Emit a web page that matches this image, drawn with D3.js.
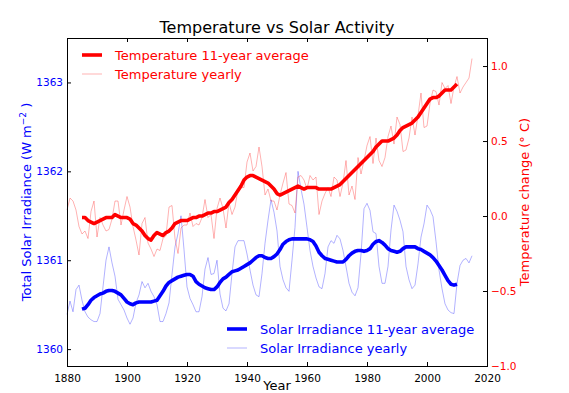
<!DOCTYPE html>
<html>
<head>
<meta charset="utf-8">
<script src="https://cdn.jsdelivr.net/npm/d3@7"></script>
<style>
  html, body { margin: 0; padding: 0; background: #fff; }
  svg { display: block; font-family: "DejaVu Sans", sans-serif; }
</style>
</head>
<body>
<div id="chart"></div>
<script>
// yearly temperature change (deg C), 1880-2015
const tempYearly = [
  0.04, 0.12, 0.10, 0.04, -0.07, -0.12, -0.10, -0.15, 0.03, 0.10,
  -0.14, -0.01, -0.06, -0.10, -0.09, -0.02, 0.10, 0.10, -0.06, 0.04,
  0.13, 0.06, -0.07, -0.16, -0.26, -0.05, -0.01, -0.18, -0.22, -0.27,
  -0.22, -0.23, -0.15, -0.13, 0.06, 0.07, -0.15, -0.25, -0.08, -0.06,
  -0.06, 0.02, -0.07, -0.05, -0.06, -0.01, 0.11, -0.01, 0.01, -0.15,
  0.05, 0.12, 0.05, -0.08, 0.09, 0.01, 0.06, 0.18, 0.19, 0.19,
  0.36, 0.42, 0.30, 0.33, 0.46, 0.33, 0.14, 0.18, 0.10, 0.10,
  0.04, 0.14, 0.22, 0.29, 0.08, 0.07, 0.02, 0.26, 0.27, 0.24,
  0.18, 0.27, 0.24, 0.26, 0.01, 0.10, 0.15, 0.19, 0.13, 0.26,
  0.24, 0.13, 0.22, 0.37, 0.14, 0.20, 0.11, 0.39, 0.28, 0.37,
  0.47, 0.53, 0.35, 0.52, 0.37, 0.33, 0.39, 0.53, 0.60, 0.48,
  0.66, 0.61, 0.43, 0.44, 0.52, 0.66, 0.54, 0.67, 0.82, 0.59,
  0.60, 0.75, 0.84, 0.83, 0.74, 0.89, 0.85, 0.87, 0.75, 0.86,
  0.93, 0.82, 0.86, 0.89, 0.92, 1.05
];

// 11-year average temperature, 1885-2010
const tempAvg = [
  -0.01, -0.01, -0.03, -0.04, -0.05,
  -0.04, -0.03, -0.02, -0.01, -0.01, -0.01, 0.01, 0.00, -0.01, -0.01,
  -0.01, -0.02, -0.05, -0.06, -0.08, -0.10, -0.13, -0.15, -0.16, -0.13,
  -0.11, -0.12, -0.13, -0.11, -0.10, -0.08, -0.05, -0.04, -0.03, -0.03,
  -0.03, -0.02, -0.01, -0.01, 0.00, 0.00, 0.01, 0.02, 0.02, 0.03,
  0.03, 0.04, 0.05, 0.06, 0.09, 0.11, 0.14, 0.17, 0.20, 0.24,
  0.26, 0.27, 0.27, 0.26, 0.25, 0.24, 0.23, 0.22, 0.20, 0.18,
  0.15, 0.14, 0.15, 0.16, 0.17, 0.18, 0.19, 0.20, 0.19, 0.18,
  0.19, 0.19, 0.19, 0.19, 0.18, 0.18, 0.18, 0.18, 0.18, 0.19,
  0.20, 0.21, 0.23, 0.25, 0.27, 0.29, 0.31, 0.33, 0.35, 0.37,
  0.39, 0.41, 0.43, 0.46, 0.48, 0.50, 0.50, 0.50, 0.51, 0.52,
  0.54, 0.57, 0.59, 0.60, 0.61, 0.62, 0.64, 0.66, 0.69, 0.72,
  0.75, 0.78, 0.79, 0.79, 0.80, 0.82, 0.84, 0.84, 0.84, 0.86,
  0.88
];

// yearly total solar irradiance (W m^-2), 1880-2015
const tsiYearly = [
  1360.39, 1360.54, 1360.42, 1360.67, 1360.72, 1360.55, 1360.42, 1360.36, 1360.33, 1360.31,
  1360.31, 1360.40, 1360.70, 1361.00, 1361.15, 1360.97, 1360.82, 1360.56, 1360.50, 1360.44,
  1360.35, 1360.28, 1360.35, 1360.52, 1360.61, 1360.76, 1360.69, 1360.74, 1360.65, 1360.59,
  1360.50, 1360.31, 1360.31, 1360.40, 1360.52, 1360.84, 1361.15, 1361.30, 1361.50, 1361.12,
  1360.70, 1360.57, 1360.50, 1360.42, 1360.42, 1360.59, 1360.90, 1361.03, 1360.84, 1360.85,
  1361.00, 1360.62, 1360.46, 1360.43, 1360.51, 1360.85, 1361.15, 1361.22, 1361.22, 1361.22,
  1361.07, 1360.89, 1360.72, 1360.61, 1360.59, 1360.85, 1361.19, 1361.45, 1361.68, 1361.54,
  1361.33, 1360.93, 1360.78, 1360.69, 1360.65, 1361.00, 1361.37, 1362.00, 1361.80, 1361.63,
  1361.37, 1361.11, 1360.93, 1360.80, 1360.70, 1360.68, 1360.85, 1361.15, 1361.22, 1361.19,
  1361.28, 1361.24, 1361.11, 1360.93, 1360.74, 1360.64, 1360.60, 1360.69, 1361.07, 1361.58,
  1361.64, 1361.56, 1361.32, 1361.30, 1360.93, 1360.74, 1360.74, 1360.93, 1361.34, 1361.62,
  1361.55, 1361.45, 1361.32, 1360.93, 1360.78, 1360.68, 1360.72, 1360.96, 1361.26, 1361.41,
  1361.62, 1361.57, 1361.49, 1361.21, 1360.89, 1360.68, 1360.51, 1360.44, 1360.41, 1360.40,
  1360.74, 1360.94, 1361.00, 1361.02, 1360.97, 1361.05
];

// 11-year average solar irradiance, 1885-2010
const tsiAvg = [
  1360.45, 1360.46, 1360.50, 1360.55, 1360.58,
  1360.60, 1360.62, 1360.63, 1360.65, 1360.66, 1360.66, 1360.65, 1360.63, 1360.61, 1360.57,
  1360.53, 1360.51, 1360.50, 1360.52, 1360.53, 1360.53, 1360.53, 1360.53, 1360.53, 1360.54,
  1360.55, 1360.60, 1360.65, 1360.71, 1360.75, 1360.77, 1360.79, 1360.81, 1360.82, 1360.83,
  1360.84, 1360.84, 1360.82, 1360.76, 1360.73, 1360.71, 1360.69, 1360.68, 1360.67, 1360.67,
  1360.70, 1360.75, 1360.79, 1360.81, 1360.84, 1360.87, 1360.88, 1360.89, 1360.91, 1360.93,
  1360.95, 1360.97, 1361.00, 1361.03, 1361.05, 1361.05, 1361.03, 1361.02, 1361.02, 1361.04,
  1361.07, 1361.12, 1361.18, 1361.21, 1361.23, 1361.24, 1361.24, 1361.24, 1361.24, 1361.24,
  1361.24, 1361.23, 1361.21, 1361.16, 1361.09, 1361.05, 1361.02, 1361.01, 1361.00, 1360.99,
  1360.98, 1360.98, 1360.98, 1361.01, 1361.05, 1361.08, 1361.10, 1361.11, 1361.11, 1361.10,
  1361.11, 1361.13, 1361.18, 1361.21, 1361.22, 1361.20, 1361.17, 1361.13, 1361.11, 1361.10,
  1361.09, 1361.10, 1361.13, 1361.15, 1361.15, 1361.15, 1361.15, 1361.13, 1361.12, 1361.10,
  1361.08, 1361.06, 1361.03, 1360.99, 1360.94, 1360.89, 1360.83, 1360.77, 1360.73, 1360.72,
  1360.73
];

const yearTicks = [1880, 1900, 1920, 1940, 1960, 1980, 2000, 2020];
const tsiTicks = [1360, 1361, 1362, 1363];
const tempTicks = [-1.0, -0.5, 0.0, 0.5, 1.0];

(() => {
  const yearlyYears = d3.range(1880, 1880 + tsiYearly.length);
  const avgYears = d3.range(1885, 1885 + tsiAvg.length);

  const width = 569, height = 393;
  const m = { left: 67, right: 82, top: 38, bottom: 27 };
  const x0 = m.left, x1 = width - m.right, y0 = m.top, y1 = height - m.bottom;

  const svg = d3.select("#chart").append("svg").attr("width", width).attr("height", height);

  const x = d3.scaleLinear().domain([1880, 2020]).range([x0, x1]);
  const yTsi = d3.scaleLinear().domain([1359.81, 1363.5]).range([y1, y0]);
  const yTemp = d3.scaleLinear().domain([-1.0, 1.187]).range([y1, y0]);

  const red = "#ff0000", blue = "#0000ff";
  const pink = "rgba(255,0,0,0.3)", lightBlue = "rgba(0,0,255,0.3)";

  const plot = svg.append("g");
  const tsiLine = d3.line().x(d => x(d.year)).y(d => yTsi(d.v));
  const tempLine = d3.line().x(d => x(d.year)).y(d => yTemp(d.v));
  const pair = (years, vals) => years.map((year, i) => ({ year, v: vals[i] }));

  plot.append("path").attr("d", tsiLine(pair(yearlyYears, tsiYearly)))
    .attr("fill", "none").attr("stroke", lightBlue).attr("stroke-width", 1);
  plot.append("path").attr("d", tsiLine(pair(avgYears, tsiAvg)))
    .attr("fill", "none").attr("stroke", blue).attr("stroke-width", 3.6).attr("stroke-linejoin", "round");
  plot.append("path").attr("d", tempLine(pair(yearlyYears, tempYearly)))
    .attr("fill", "none").attr("stroke", pink).attr("stroke-width", 1);
  plot.append("path").attr("d", tempLine(pair(avgYears, tempAvg)))
    .attr("fill", "none").attr("stroke", red).attr("stroke-width", 3.6).attr("stroke-linejoin", "round");

  // axes, ticks point inward like old matplotlib
  const tickFont = 10.5;
  const axBottom = svg.append("g").attr("transform", `translate(0,${y1})`)
    .call(d3.axisBottom(x).tickValues(yearTicks).tickFormat(d3.format("d")).tickSize(-4).tickPadding(9).tickSizeOuter(0));
  const axTop = svg.append("g").attr("transform", `translate(0,${y0})`)
    .call(d3.axisTop(x).tickValues(yearTicks).tickFormat("").tickSize(-4).tickSizeOuter(0));
  const axLeft = svg.append("g").attr("transform", `translate(${x0},0)`)
    .call(d3.axisLeft(yTsi).tickValues(tsiTicks).tickFormat(d3.format("d")).tickSize(-4).tickPadding(4).tickSizeOuter(0));
  const axRight = svg.append("g").attr("transform", `translate(${x1},0)`)
    .call(d3.axisRight(yTemp).tickValues(tempTicks).tickFormat(d3.format(".1f")).tickSize(-4).tickPadding(4).tickSizeOuter(0));

  [axBottom, axTop, axLeft, axRight].forEach(g => {
    g.select(".domain").remove();
    g.selectAll(".tick line").attr("stroke", "#000");
    g.selectAll("text").attr("font-family", "DejaVu Sans").attr("font-size", tickFont);
  });
  axBottom.selectAll("text").attr("fill", "#000");
  axLeft.selectAll("text").attr("fill", blue);
  axRight.selectAll("text").attr("fill", red);

  svg.append("rect").attr("x", x0 + 0.5).attr("y", y0 + 0.5)
    .attr("width", x1 - x0).attr("height", y1 - y0)
    .attr("fill", "none").attr("stroke", "#000").attr("stroke-width", 1);

  // title and axis labels
  svg.append("text").attr("x", (x0 + x1) / 2).attr("y", 33).attr("text-anchor", "middle")
    .attr("font-size", 16).attr("fill", "#000").text("Temperature vs Solar Activity");
  svg.append("text").attr("x", (x0 + x1) / 2).attr("y", 390).attr("text-anchor", "middle")
    .attr("font-size", 13).attr("fill", "#000").text("Year");

  const yl = svg.append("text").attr("transform", `translate(31,${(y0 + y1) / 2}) rotate(-90)`)
    .attr("text-anchor", "middle").attr("font-size", 13).attr("fill", blue);
  yl.append("tspan").text("Total Solar Irradiance (W m");
  yl.append("tspan").attr("dy", -5).attr("font-size", 9).text("−2");
  yl.append("tspan").attr("dy", 5).text(" )");

  svg.append("text").attr("transform", `translate(529,${(y0 + y1) / 2}) rotate(-90)`)
    .attr("text-anchor", "middle").attr("font-size", 13).attr("fill", red)
    .text("Temperature change (° C)");

  // legends
  function legend(items, lx, ly) {
    items.forEach((it, i) => {
      const yy = ly + i * 19;
      svg.append("line").attr("x1", lx).attr("x2", lx + 20).attr("y1", yy).attr("y2", yy)
        .attr("stroke", it.stroke).attr("stroke-width", it.width);
      svg.append("text").attr("x", lx + 33).attr("y", yy + 5).attr("font-size", 13)
        .attr("fill", it.color).text(it.label);
    });
  }
  legend([
    { label: "Temperature 11-year average", stroke: red, width: 3.6, color: red },
    { label: "Temperature yearly", stroke: pink, width: 1, color: red }
  ], 82, 55);
  legend([
    { label: "Solar Irradiance 11-year average", stroke: blue, width: 3.6, color: blue },
    { label: "Solar Irradiance yearly", stroke: lightBlue, width: 1, color: blue }
  ], 227, 329);
})();
</script>
</body>
</html>
